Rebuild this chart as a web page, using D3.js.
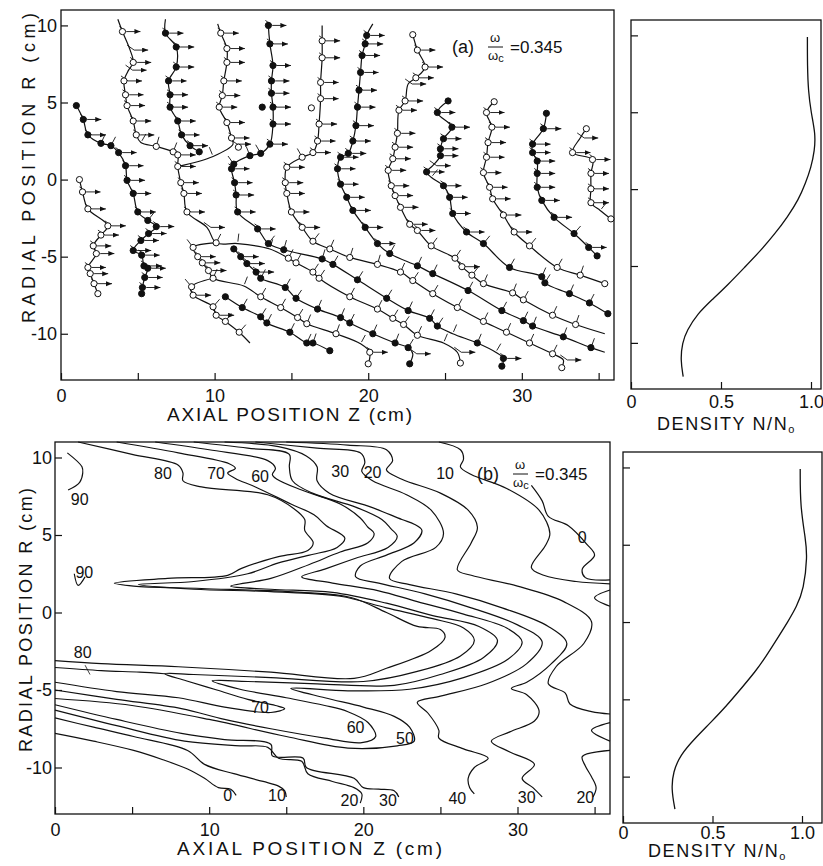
<!DOCTYPE html>
<html>
<head>
<meta charset="utf-8">
<script src="https://cdn.jsdelivr.net/npm/d3@7"></script>
<style>
body { margin: 0; background: #fff; }
text { font-family: "Liberation Sans", Arial, sans-serif; fill: #111; }
</style>
</head>
<body>
<script>
// ---- panel (a): phase fronts, [z, R, marker?] ----
var curveA = [[1.2,0.0,1],[1.4,-0.8,1],[1.75,-1.9,1],[3.05,-3.0,1],[2.6,-3.6,1],[2.1,-4.3,1],[2.3,-4.8,1],[1.75,-5.7,1],[1.9,-6.1,1],[2.15,-6.75,1],[2.4,-7.4,1]];
var curveB = [[1.0,4.8,1],[1.45,3.9,1],[1.75,2.9,1],[2.6,2.35,1],[3.25,2.2,1],[3.75,1.75,1],[4.2,0.9,1],[4.3,-0.05,1],[4.7,-0.9,1],[5.0,-2.1,1],[5.65,-2.65,1],[6.2,-3.05,1],[5.7,-3.5,1],[5.2,-3.95,1],[4.7,-4.6,1],[5.25,-4.9,1],[5.4,-5.6,1],[5.65,-5.75,1],[5.45,-6.35,1],[5.3,-7.0,1],[5.25,-7.4,1]];
var curveC = [[3.7,10.4,0],[4.0,9.6,1],[4.5,8.4,0],[4.7,7.6,1],[4.4,7.1,0],[4.1,6.4,1],[4.2,5.5,1],[4.3,4.8,1],[4.7,3.8,1],[4.9,2.9,1],[5.2,2.4,0],[6.2,2.15,1],[7.3,1.8,1],[7.6,1.6,1],[7.6,0.85,1],[7.8,-0.2,1],[8.0,-0.9,1],[8.2,-2.1,1],[9.5,-3.1,0],[10.1,-4.1,1],[11.5,-4.15,0],[13.6,-4.5,0],[14.8,-5.1,1],[15.3,-5.4,1],[16.4,-6.0,1],[16.8,-6.4,1],[18.8,-7.6,1],[20.6,-8.4,1],[21.6,-9.0,1],[22.3,-9.4,1],[23.2,-10.1,1],[24.9,-10.6,0],[25.8,-11.2,0],[26.0,-11.9,1]];
var curveC2 = [[10.1,-4.1,0],[8.6,-4.4,1],[8.9,-5.0,1],[9.2,-5.4,1],[9.6,-5.9,1],[9.9,-6.4,1],[11.9,-6.9,0],[13.0,-7.6,1],[14.3,-8.3,1],[15.4,-8.95,1],[16.0,-9.35,1],[17.9,-10.0,1],[19.5,-10.65,0],[20.1,-11.2,1],[20.0,-11.95,1]];
var curveC3 = [[9.9,-6.4,0],[8.5,-6.95,1],[8.6,-7.5,1],[9.9,-8.25,1],[10.1,-8.8,1],[10.7,-9.2,1],[11.6,-9.9,1],[12.3,-10.6,0]];
var curveP1 = [[11.25,-4.5,1],[11.7,-5.0,1],[12.1,-5.45,1],[12.7,-6.0,1],[13.0,-6.4,1],[14.6,-7.0,1],[15.3,-7.7,1],[16.7,-8.4,1],[18.2,-8.95,1],[18.8,-9.3,1],[20.3,-10.0,1],[21.75,-10.6,1],[22.6,-10.9,1],[22.9,-11.3,0],[22.7,-11.95,1]];
var curveP2 = [[10.7,-7.6,1],[11.8,-8.3,1],[13.0,-8.9,1],[13.4,-9.3,1],[14.9,-9.9,1],[16.0,-10.6,1],[16.4,-10.6,1],[17.5,-11.1,1]];
var curveD = [[6.8,10.4,0],[6.8,9.5,1],[7.5,8.6,1],[7.5,7.3,1],[7.0,6.4,1],[7.1,5.5,1],[7.1,4.7,1],[7.6,3.8,1],[7.85,2.9,1],[8.4,2.2,1],[9.0,1.8,1]];
var curveE = [[10.2,10.1,0],[10.4,9.5,1],[10.8,8.5,1],[10.8,7.6,1],[10.6,6.4,1],[10.5,5.45,1],[10.3,4.7,1],[10.8,3.7,1],[11.1,2.7,1],[11.2,2.3,0],[9.9,1.5,0],[7.6,0.85,0]];
var curveF = [[13.5,10.2,0],[13.5,10.0,1],[13.6,8.8,1],[13.8,7.4,1],[13.7,6.4,1],[13.7,5.6,1],[13.8,4.7,1],[13.8,3.6,1],[13.6,2.3,1],[13.0,1.7,1],[12.3,1.55,1],[11.25,1.0,1],[11.1,0.7,1],[11.3,-0.2,1],[11.4,-1.0,1],[11.5,-2.1,1],[12.8,-3.2,1],[13.5,-4.15,1],[14.5,-4.55,1],[17.0,-5.15,1],[17.7,-5.5,1],[19.3,-6.5,1],[21.2,-7.7,1],[22.6,-8.5,1],[24.0,-9.0,1],[24.5,-9.5,1],[25.5,-10.0,0],[27.1,-10.6,1],[28.3,-11.2,0],[28.8,-11.6,1],[28.7,-12.1,1]];
var curveG = [[17.0,10.0,0],[17.0,9.0,1],[17.0,7.9,1],[16.9,6.3,1],[16.9,5.25,1],[16.8,3.6,1],[16.7,2.5,1],[16.4,1.75,1],[15.7,1.45,1],[14.7,0.8,1],[14.6,-0.2,1],[14.7,-0.9,1],[15.0,-2.1,1],[15.7,-3.1,1],[16.4,-4.0,1],[17.5,-4.5,1],[18.8,-5.05,1],[20.6,-5.5,1],[22.1,-6.0,1],[22.9,-6.55,1],[24.2,-7.4,1],[25.8,-8.3,1],[27.5,-9.2,1],[29.0,-9.9,1],[30.5,-10.6,1],[32.0,-11.3,1],[32.7,-11.7,0],[32.6,-12.2,1]];
var curveH = [[20.3,10.1,0],[19.9,9.35,1],[19.8,8.8,1],[19.6,8.05,1],[19.5,6.95,1],[19.4,5.8,1],[19.3,4.7,1],[19.2,3.5,1],[19.0,2.5,1],[18.7,1.7,1],[18.2,1.45,1],[18.0,0.7,1],[18.2,-0.3,1],[18.6,-1.15,1],[19.0,-2.0,1],[19.8,-3.1,1],[20.6,-4.15,1],[21.4,-4.8,1],[23.2,-5.6,1],[24.2,-6.1,1],[26.5,-7.2,1],[28.7,-8.5,1],[30.1,-9.15,1],[30.7,-9.5,1],[32.7,-10.2,1],[34.5,-10.9,1],[35.4,-11.2,0]];
var curveI = [[22.9,9.4,1],[23.2,8.4,1],[23.7,7.3,1],[23.1,6.6,1],[22.6,6.2,0],[22.4,5.1,1],[22.0,4.5,1],[21.9,3.0,1],[21.75,2.1,1],[21.6,1.35,1],[21.3,0.6,1],[21.5,-0.4,1],[21.75,-1.04,1],[22.1,-1.8,1],[22.7,-2.9,1],[23.2,-3.3,1],[24.1,-4.3,1],[25.65,-5.1,1],[26.1,-5.65,1],[26.75,-6.2,1],[27.5,-6.75,1],[29.4,-7.35,1],[30.1,-7.8,1],[32.0,-8.8,1],[33.5,-9.4,1],[35.4,-10.0,0]];
var curveJ = [[25.2,5.1,1],[24.5,4.35,1],[25.45,3.4,1],[24.9,2.65,1],[24.7,2.0,1],[24.7,1.55,1],[24.2,0.9,0],[23.8,0.5,1],[24.1,0.15,0],[24.9,-0.4,1],[25.3,-1.15,1],[25.5,-2.2,1],[26.4,-3.4,1],[27.5,-4.15,1],[29.2,-5.7,1],[31.3,-6.3,1],[31.5,-6.7,1],[33.1,-7.4,1],[34.4,-8.0,1],[35.6,-8.7,1]];
var curveK = [[28.2,5.05,1],[27.7,4.35,1],[28.05,3.4,1],[27.8,2.4,1],[27.7,1.45,1],[27.5,0.45,1],[27.9,-0.5,1],[28.1,-1.25,1],[28.8,-2.3,1],[29.5,-3.4,1],[30.5,-4.3,1],[32.3,-5.7,1],[33.8,-6.2,1],[35.4,-6.75,1]];
var curveL = [[31.6,4.3,1],[31.4,3.3,1],[30.7,2.3,1],[30.7,1.75,1],[31.0,1.2,1],[31.0,0.4,1],[31.0,-0.5,1],[31.3,-1.35,1],[32.1,-2.45,1],[33.4,-3.5,1],[34.35,-4.4,1],[34.9,-4.95,1]];
var curveM = [[34.2,3.3,1],[33.8,2.7,0],[33.3,1.75,1],[34.6,1.3,1],[34.5,0.4,1],[34.5,-0.6,1],[34.5,-1.5,1],[35.1,-2.0,0],[35.8,-2.55,1]];
var strayOpen = [[11.55,2.1],[16.3,4.65]];
var strayFilled = [[13.1,4.7]];

// ---- density profiles ----
var densRa = [9.9, 8.0, 6.4, 5.0, 3.6, 2.5, 1.4, 0.4, -0.7, -1.8, -2.9, -4.0, -5.1, -6.2, -7.2, -8.1, -9.2, -10.0, -11.1, -12.2];
var densNa = [0.98, 0.98, 0.985, 1.0, 1.025, 1.02, 1.0, 0.97, 0.93, 0.87, 0.8, 0.72, 0.63, 0.54, 0.45, 0.37, 0.31, 0.285, 0.275, 0.29];
var densRb = [9.9, 7.5, 5.35, 4.26, 2.13, 1.0, 0.0, -1.1, -2.2, -3.2, -4.3, -5.4, -6.5, -7.55, -8.6, -9.7, -10.8, -12.1];
var densNb = [0.99, 0.99, 1.02, 1.03, 1.01, 0.97, 0.92, 0.86, 0.8, 0.74, 0.66, 0.58, 0.49, 0.4, 0.32, 0.28, 0.27, 0.29];

// ---- panel (b): phase contours, [z, R] ----
var c80 = [[1.5,11],[5,10.2],[8.0,9.5],[8.3,9.0],[8.3,8.5],[9.5,8.1],[13.8,7.6],[15.5,6.7],[16.2,6.0],[16.2,5.3],[16.75,4.5],[16.4,4.0],[14.5,3.6],[12.1,2.85],[11.2,2.4],[7.3,2.2],[3.85,1.9],[5.1,1.7],[9.5,1.55],[16.0,1.3],[19.2,0.97],[21.5,0.0],[23.5,-0.9],[25.0,-1.1],[25.3,-1.6],[24.4,-2.45],[21.5,-3.6],[19.4,-4.25],[14,-3.85],[8,-3.5],[3,-3.3],[0,-3.1]];
var c70 = [[4,11],[8,10.3],[11.3,9.6],[11.7,9.3],[11.2,9.0],[11.7,8.65],[13,8.1],[15.3,7.0],[16.8,6.3],[17.6,5.6],[18.8,4.8],[18.3,4.2],[16.5,3.7],[14.5,3.2],[12.5,2.5],[9,2.0],[5.4,1.8],[9,1.5],[14,1.35],[18.5,1.05],[21.5,0.3],[24.5,-0.4],[26.5,-1.0],[27.2,-1.8],[26.3,-2.8],[23.5,-3.8],[20,-4.45],[14,-4.2],[9,-4.0],[7.1,-3.95],[8.5,-4.4],[10.5,-5.0],[12.5,-5.6],[14.3,-6.0],[14.9,-6.2],[14,-6.45],[11,-6.1],[8,-5.5],[4,-5.1],[0,-4.5]];
var c60 = [[6.5,11],[10,10.5],[13.8,9.8],[14.3,9.3],[14.1,8.9],[14.4,8.6],[16,7.9],[18.5,7.0],[19.8,6.1],[20.3,5.5],[20.7,5.1],[20.3,4.5],[18.5,3.9],[16.5,3.1],[14,2.2],[11.4,1.7],[14,1.5],[18,1.3],[21.5,0.6],[24.5,-0.2],[27.5,-0.9],[28.7,-1.8],[27.8,-2.9],[25,-4.0],[22,-4.7],[17,-4.6],[12.5,-4.45],[10.2,-4.4],[12,-4.95],[15,-5.5],[17.5,-6.0],[19.0,-6.4],[20.3,-7.1],[20.8,-8.0],[19.9,-8.4],[17.5,-8.1],[14,-7.5],[11,-6.9],[8.2,-6.2],[4,-5.6],[0,-5.0]];
var c50 = [[9,11],[12.5,10.6],[15.2,10.2],[15.2,9.4],[15.4,8.5],[16.7,7.7],[19.5,6.8],[21.2,6.0],[21.8,5.4],[22.2,4.9],[21.6,4.2],[19.5,3.5],[17.5,2.8],[16.0,2.3],[18,1.9],[21,1.4],[23.5,0.7],[26.5,-0.1],[29.3,-1.0],[30.3,-1.9],[29.4,-3.0],[26.5,-4.2],[23,-4.95],[19,-5.05],[15.3,-4.9],[17.5,-5.5],[20,-6.1],[22.0,-6.7],[23.0,-7.4],[23.3,-8.3],[22.2,-8.6],[19,-8.75],[15,-8.0],[10,-6.9],[5,-6.0],[0,-5.55]];
var c40 = [[11,11],[14.5,10.7],[16.3,10.1],[17.0,9.4],[17.0,8.5],[17.8,7.7],[20.5,6.8],[22.5,6.0],[23.3,5.7],[23.8,5.3],[23.3,4.5],[21.5,3.7],[19.8,3.0],[19.5,2.3],[21,1.9],[24,1.2],[27,0.3],[30,-0.8],[31.6,-1.9],[30.6,-3.3],[28,-4.6],[25,-5.4],[23.5,-5.8],[24.2,-6.5],[24.9,-7.6],[24.9,-8.1],[26.5,-8.8],[28.1,-9.4],[27.2,-10.0],[26.8,-10.7],[26.9,-11.3],[27.2,-11.7]];
var c30 = [[13,11],[17,10.6],[19.8,10.3],[20.1,9.7],[19.9,9.1],[20.6,8.5],[22.8,7.6],[24.4,6.6],[25.2,5.1],[24.7,4.2],[22.5,3.3],[21.7,2.2],[23,1.8],[26,1.2],[29,0.3],[32,-0.9],[33.2,-2.0],[32.2,-3.3],[30.6,-4.5],[29.6,-4.9],[30.6,-5.3],[31.4,-6.35],[31.1,-7.0],[29.5,-7.7],[28.3,-8.3],[29.5,-9.0],[31.1,-9.8],[30.3,-10.7],[31.0,-11.3],[31.6,-11.9]];
var c20 = [[15,11],[19,10.8],[21.5,10.5],[21.9,9.8],[21.5,9.2],[22.5,8.6],[25,7.7],[26.8,6.6],[27.4,5.5],[27.0,4.5],[26.1,2.75],[27,2.4],[30,1.7],[33,0.7],[34.8,-0.6],[34.3,-2.0],[32.5,-3.5],[32.0,-4.6],[33.1,-5.2],[33.4,-5.9],[34.8,-6.4],[36,-6.55]];
var c20b = [[36,-8.9],[34.2,-9.3],[34.4,-9.9],[34.8,-10.6],[35.1,-11.3],[34.9,-11.9]];
var c10 = [[24.9,11],[26.3,10.5],[26.5,9.9],[26.3,9.4],[27.0,8.9],[29.3,8.0],[31.4,6.6],[32.1,5.1],[31.8,4.3],[30.9,2.9],[31.7,2.4],[33.8,2.0],[36,1.85]];
var c0 = [[30.9,8.2],[31.6,7.2],[32.0,6.2],[33.3,5.6],[34.5,4.4],[35.0,3.7],[34.2,2.8],[34.4,2.25],[36,2.1]];
var wedgeA = [[36,-7.1],[34.8,-7.6],[36,-8.3]];
var wedgeB = [[36,1.45],[35.0,0.95],[36,0.4]];
var lowB = [[0,-3.55],[3,-3.75],[5.5,-3.85],[7.1,-3.95]];
var low30 = [[0,-5.95],[4,-6.9],[8.2,-7.8],[11,-8.2],[14,-8.5],[14.1,-9.25],[16.1,-9.4],[16.3,-10.0],[19.4,-10.7],[20.0,-11.3],[21,-11.4],[22.0,-11.5],[22.3,-11.9]];
var low20 = [[0,-6.3],[4,-7.3],[8.4,-8.3],[12,-8.6],[13.8,-8.7],[14.5,-9.4],[16,-9.6],[16.4,-10.4],[18,-10.9],[19.4,-11.3],[19.9,-11.7],[19.8,-12.3]];
var low10 = [[0,-6.8],[2.5,-7.4],[5.1,-8.0],[8.6,-8.9],[9.7,-9.8],[11.6,-10.4],[13.5,-10.9],[14.5,-11.2],[14.9,-11.5],[15.0,-11.9]];
var low0 = [[0,-7.8],[2.5,-8.3],[5.1,-8.9],[7,-9.5],[8.6,-10.1],[9.7,-10.7],[10.6,-11.3],[11.4,-11.4],[11.75,-11.8]];
var arc90 = [[0.8,10.3],[1.75,9.4],[1.8,9.0],[1.6,8.4],[0.85,7.9]];
var vee90 = [[1.25,2.5],[1.5,1.75],[1.95,2.3]];
var leader80 = [[1.95,-3.4],[2.27,-4.0]];
var contourLabels = [["80",7.0,9.0],["70",10.45,9.0],["60",13.3,8.8],["30",18.5,9.1],["20",20.6,9.05],["10",25.3,9.0],["0",34.2,4.85],
  ["90",1.6,7.3],["90",1.9,2.55],["80",1.8,-2.6],["70",13.3,-6.1],["60",19.5,-7.45],["50",22.7,-8.1],
  ["0",11.2,-11.8],["10",14.4,-11.8],["20",19.1,-12.1],["30",21.6,-12.1],["40",26.1,-12.0],["30",30.6,-11.95],["20",34.4,-11.95]];

var rTicks = [-10, -5, 0, 5, 10];
var zTicks = [0, 5, 10, 15, 20, 25, 30, 35];
var nTicks = [0, 0.5, 1.0];

// ---- layout ----
var svg = d3.select("body").append("svg").attr("width", 823).attr("height", 866);
svg.append("defs").append("marker")
  .attr("id", "ah").attr("markerUnits", "userSpaceOnUse")
  .attr("markerWidth", 7).attr("markerHeight", 6).attr("refX", 6).attr("refY", 2.5)
  .attr("orient", "auto")
  .append("path").attr("d", "M0,0L6,2.5L0,5z").attr("fill", "#111");

var xA = d3.scaleLinear().domain([0, 36]).range([61, 614]);
var yA = d3.scaleLinear().domain([-13, 11]).range([380, 10]);
var xAD = d3.scaleLinear().domain([0, 1]).range([631, 811]);
var yAD = d3.scaleLinear().domain([-13, 11]).range([389, 20]);
var xB = d3.scaleLinear().domain([0, 36]).range([55, 610]);
var yB = d3.scaleLinear().domain([-13, 11]).range([814, 442]);
var xBD = d3.scaleLinear().domain([0, 1]).range([623, 802]);
var yBD = d3.scaleLinear().domain([-13, 11]).range([823, 452]);

function frame(x0, x1, y0, y1) {
  svg.append("rect").attr("x", x0).attr("y", y0).attr("width", x1 - x0).attr("height", y1 - y0)
    .attr("fill", "none").attr("stroke", "#111").attr("stroke-width", 1.3);
}

function axes(x, y, xt, xfmt, yfmt, xpad, ypad, fs) {
  var gx = svg.append("g").attr("transform", `translate(0, ${y.range()[0]})`)
    .call(d3.axisBottom(x).tickValues(xt).tickSizeInner(-7).tickSizeOuter(0).tickPadding(xpad).tickFormat(xfmt));
  var gy = svg.append("g").attr("transform", `translate(${x.range()[0]}, 0)`)
    .call(d3.axisLeft(y).tickValues(rTicks).tickSizeInner(-7).tickSizeOuter(0).tickPadding(ypad).tickFormat(yfmt));
  [gx, gy].forEach(function(g) {
    g.select(".domain").remove();
    g.selectAll("line").attr("stroke", "#111").attr("stroke-width", 1.2);
    g.selectAll("text").style("font-size", fs + "px").style("font-family", "Liberation Sans, Arial, sans-serif").attr("fill", "#111");
  });
}

var rFmt = function(d) { return d < 0 ? "-" + Math.abs(d) : d; };
var zFmt = function(d) { return d % 10 === 0 ? d : ""; };
var nFmt = function(d) { return d === 0 ? "0" : d.toFixed(1); };

// panel frames + axes
frame(61, 614, 10, 380);
frame(631, 821, 20, 389);
frame(55, 610, 442, 814);
frame(623, 822, 452, 823);
axes(xA, yA, zTicks, zFmt, rFmt, 9, 4, 18);
axes(xB, yB, zTicks, zFmt, rFmt, 9, 3, 18);
axes(xAD, yAD, nTicks, nFmt, function() { return ""; }, 6, 3, 18);
axes(xBD, yBD, nTicks, nFmt, function() { return ""; }, 3, 3, 18);

// ---- panel (a) curves ----
var topCurves = [
  {pts: curveA, filled: false}, {pts: curveB, filled: true}, {pts: curveC, filled: false},
  {pts: curveC2, filled: false}, {pts: curveC3, filled: false}, {pts: curveP1, filled: true},
  {pts: curveP2, filled: true}, {pts: curveD, filled: true}, {pts: curveE, filled: false},
  {pts: curveF, filled: true}, {pts: curveG, filled: false}, {pts: curveH, filled: true},
  {pts: curveI, filled: false}, {pts: curveJ, filled: true}, {pts: curveK, filled: false},
  {pts: curveL, filled: true}, {pts: curveM, filled: false}
];

var lineA = d3.line().x(d => xA(d[0])).y(d => yA(d[1])).curve(d3.curveCatmullRom.alpha(0.5));
var gA = svg.append("g").attr("stroke", "#111").attr("fill", "none");

topCurves.forEach(function(c) {
  gA.append("path").attr("d", lineA(c.pts)).attr("stroke-width", 1.2);
});

// wave vectors: arrows on steep parts, short normals on the slanted parts
var gV = svg.append("g").attr("stroke", "#111").attr("stroke-width", 0.9);
topCurves.forEach(function(c) {
  var p = c.pts;
  for (var i = 1; i < p.length - 1; i++) {
    var px = xA(p[i][0]), py = yA(p[i][1]);
    var dx = xA(p[i + 1][0]) - xA(p[i - 1][0]);
    var dy = yA(p[i + 1][1]) - yA(p[i - 1][1]);
    if (Math.abs(dy) > Math.abs(dx) * 0.9) {
      gV.append("line").attr("x1", px + 4).attr("y1", py).attr("x2", px + 18).attr("y2", py)
        .attr("marker-end", "url(#ah)");
      gV.append("line").attr("x1", px + 4).attr("y1", py).attr("x2", px - 3).attr("y2", py - 5);
    } else {
      if (dx < 0) { dx = -dx; dy = -dy; }
      var len = Math.hypot(dx, dy);
      var nx = dy / len, ny = -dx / len;
      gV.append("line").attr("x1", px + nx * 2).attr("y1", py + ny * 2)
        .attr("x2", px + nx * 10).attr("y2", py + ny * 10);
    }
  }
});

// markers
var gM = svg.append("g");
topCurves.forEach(function(c) {
  gM.selectAll(null).data(c.pts.filter(d => d[2] === 1)).enter().append("circle")
    .attr("cx", d => xA(d[0])).attr("cy", d => yA(d[1])).attr("r", 3.1)
    .attr("fill", c.filled ? "#111" : "#fff").attr("stroke", "#111").attr("stroke-width", 1);
});
gM.selectAll(null).data(strayOpen).enter().append("circle")
  .attr("cx", d => xA(d[0])).attr("cy", d => yA(d[1])).attr("r", 3.1)
  .attr("fill", "#fff").attr("stroke", "#111");
gM.selectAll(null).data(strayFilled).enter().append("circle")
  .attr("cx", d => xA(d[0])).attr("cy", d => yA(d[1])).attr("r", 3.1)
  .attr("fill", "#111").attr("stroke", "#111");

// ---- density profiles ----
var densA = densRa.map((r, i) => [densNa[i], r]);
var densB = densRb.map((r, i) => [densNb[i], r]);
svg.append("path").attr("fill", "none").attr("stroke", "#111").attr("stroke-width", 1.3)
  .attr("d", d3.line().x(d => xAD(d[0])).y(d => yAD(d[1])).curve(d3.curveBasis)(densA));
svg.append("path").attr("fill", "none").attr("stroke", "#111").attr("stroke-width", 1.3)
  .attr("d", d3.line().x(d => xBD(d[0])).y(d => yBD(d[1])).curve(d3.curveBasis)(densB));

// ---- panel (b) contours ----
var lineB = d3.line().x(d => xB(d[0])).y(d => yB(d[1])).curve(d3.curveCatmullRom.alpha(0.5));
var contours = [c80, c70, c60, c50, c40, c30, c20, c20b, c10, c0, wedgeA, wedgeB, lowB, low30, low20, low10, low0, arc90, vee90];
var gB = svg.append("g").attr("fill", "none").attr("stroke", "#111").attr("stroke-width", 1.2);
contours.forEach(function(c) { gB.append("path").attr("d", lineB(c)); });
gB.append("path").attr("d", d3.line().x(d => xB(d[0])).y(d => yB(d[1]))(leader80)).attr("stroke-width", 0.8);

svg.append("g").selectAll("text").data(contourLabels).enter().append("text")
  .attr("x", d => xB(d[1])).attr("y", d => yB(d[2]))
  .attr("text-anchor", "middle").attr("dominant-baseline", "central")
  .style("font-size", "16px").text(d => d[0]);

// ---- titles ----
function ytitle(x, yc, len) {
  svg.append("text").attr("transform", `translate(${x}, ${yc}) rotate(-90)`)
    .attr("text-anchor", "middle").style("font-size", "18px")
    .attr("textLength", len).attr("lengthAdjust", "spacing")
    .text("RADIAL POSITION R (cm)");
}
ytitle(35, 168, 310);
ytitle(32, 620, 264);

svg.append("text").attr("x", 167).attr("y", 421).style("font-size", "19px")
  .attr("textLength", 245).attr("lengthAdjust", "spacing").text("AXIAL POSITION Z (cm)");
svg.append("text").attr("x", 177).attr("y", 855).style("font-size", "19px")
  .attr("textLength", 265).attr("lengthAdjust", "spacing").text("AXIAL POSITION Z (cm)");

function densTitle(x, y) {
  var t = svg.append("text").attr("x", x).attr("y", y).style("font-size", "18px").style("letter-spacing", "1.6px");
  t.append("tspan").text("DENSITY N/N");
  t.append("tspan").attr("dy", 3).style("font-size", "11px").text("o");
}
densTitle(657, 430);
densTitle(648, 857);

function omega(x, y, tag) {
  svg.append("text").attr("x", x).attr("y", y).style("font-size", "18px").text(tag);
  var fx = x + 36;
  svg.append("text").attr("x", fx + 7).attr("y", y - 11).attr("text-anchor", "middle").style("font-size", "13px").text("ω");
  svg.append("line").attr("x1", fx).attr("x2", fx + 15).attr("y1", y - 6).attr("y2", y - 6).attr("stroke", "#111").attr("stroke-width", 1);
  var den = svg.append("text").attr("x", fx).attr("y", y + 7).style("font-size", "13px");
  den.append("tspan").text("ω");
  den.append("tspan").attr("dy", 2).style("font-size", "11px").text("c");
  svg.append("text").attr("x", fx + 22).attr("y", y).style("font-size", "17px").text("=0.345");
}
omega(452, 53, "(a)");
omega(477, 480, "(b)");
</script>
</body>
</html>
